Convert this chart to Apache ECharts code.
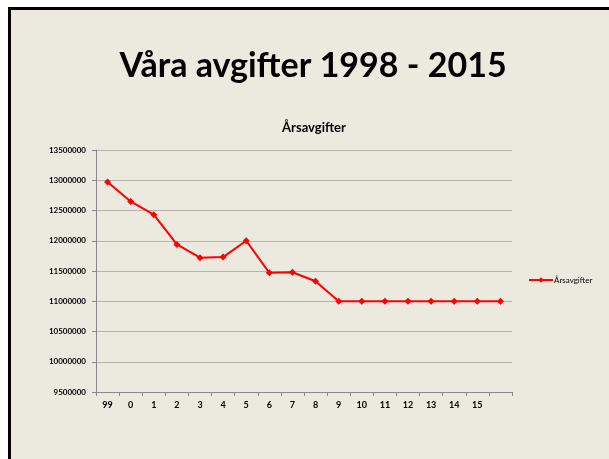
<!DOCTYPE html>
<html>
<head>
	<meta charset="utf-8">
	<title>Våra avgifter</title>
	<script src="https://cdn.jsdelivr.net/npm/echarts@6/dist/echarts.min.js"></script>
	<style>
		body { margin: 0; background: #fff; }
		#chart { width: 609px; height: 459px; }
	</style>
</head>
<body>
	<div id="chart"></div>
	<script>
		// år (sista kategorin är tom)
		var years = ['99', '0', '1', '2', '3', '4', '5', '6', '7', '8', '9', '10', '11', '12', '13', '14', '15', ''];
		var fees = [12970000, 12650000, 12430000, 11940000, 11720000, 11730000, 12000000, 11470000, 11480000, 11330000,
			11000000, 11000000, 11000000, 11000000, 11000000, 11000000, 11000000, 11000000];
		var yMin = 9500000, yMax = 13500000, yStep = 500000;

		var chart = echarts.init(document.getElementById('chart'));
		var option = {
			backgroundColor: '#fff',
			animation: false,
			graphic: [{
				type: 'rect',
				z: -10,
				shape: { x: 9.5, y: 8.5, width: 700, height: 600 },
				style: { fill: '#ECE9DF', stroke: '#000', lineWidth: 3 }
			}, {
				type: 'text',
				x: 313,
				y: 49,
				style: {
					text: 'Våra avgifter 1998 - 2015',
					font: 'bold 34px Lato, "Open Sans", sans-serif',
					fill: '#000',
					align: 'center'
				}
			}, {
				type: 'text',
				x: 314,
				y: 121,
				style: {
					text: 'Årsavgifter',
					font: 'bold 13px Lato, sans-serif',
					fill: '#000',
					align: 'center'
				}
			}],
			legend: {
				data: ['Årsavgifter'],
				left: 523,
				top: 271,
				itemWidth: 24,
				itemHeight: 7,
				itemGap: 2,
				textStyle: { fontSize: 8, color: '#000', fontFamily: 'Lato, sans-serif', padding: [0, 0, 0, -4] }
			},
			grid: { left: 96, right: 97, top: 150, bottom: 67 },
			xAxis: {
				type: 'category',
				data: years,
				boundaryGap: true,
				axisLine: { lineStyle: { color: '#888', width: 1 } },
				axisTick: { show: true, lineStyle: { color: '#888' }, length: 4 },
				axisLabel: { color: '#000', fontSize: 9, fontWeight: 'bold', margin: 9, fontFamily: 'Lato, sans-serif' },
				splitLine: { show: false }
			},
			yAxis: {
				type: 'value',
				min: yMin,
				max: yMax,
				interval: yStep,
				axisLine: { show: true, lineStyle: { color: '#888', width: 1 } },
				axisTick: { show: true, lineStyle: { color: '#888' }, length: 4 },
				axisLabel: {
					color: '#000', fontSize: 8, fontWeight: 'bold', margin: 10, fontFamily: 'Lato, sans-serif',
					formatter: function (v) { return String(v); }
				},
				splitLine: { lineStyle: { color: '#b5b3ad', width: 1 } }
			},
			series: [{
				name: 'Årsavgifter',
				type: 'line',
				data: fees,
				symbol: 'diamond',
				symbolSize: 7,
				lineStyle: { color: '#FF0000', width: 2 },
				itemStyle: { color: '#FF0000' }
			}]
		};
		chart.setOption(option);
	</script>
</body>
</html>
